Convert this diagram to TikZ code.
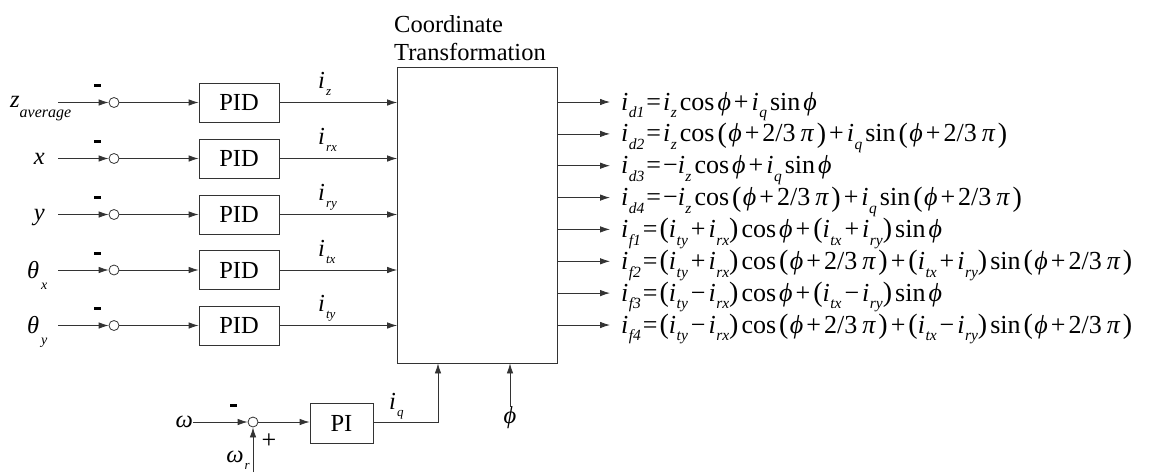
\documentclass[tikz,border=0pt]{standalone}
\usepackage{fontspec}
\setmainfont{Liberation Serif}
\usetikzlibrary{arrows.meta,calc}
\newcommand\fsub[1]{\raisebox{-0.3em}{\fontsize{15.5}{15.5}\selectfont\textit{#1}}}
\newcommand\iv[1]{\textit{i}\kern0.5pt\fsub{#1}}
\newcommand\fphi{\textit{ϕ}}
\newcommand\fpi{\textit{π}}
\newcommand\flp{\raisebox{-0.5pt}{\fontsize{28}{28}\selectfont(}}
\newcommand\frp{\raisebox{-0.5pt}{\fontsize{28}{28}\selectfont)}}
\newcommand\feq{\kern2pt=\kern2pt}
\newcommand\fpl{\kern3pt+\kern3pt}
\newcommand\fmn{\kern3pt−\kern3pt}
\newcommand\fcos{\kern3pt cos\kern3pt}
\newcommand\fsin{\kern3pt sin\kern3pt}
\newcommand\fang{\flp\kern1.5pt\fphi\fpl 2/3\kern5pt\fpi\kern2.5pt\frp}
\begin{document}
\begin{tikzpicture}[x=1pt,y=-1pt,
  every node/.style={inner sep=0pt, font=\fontsize{24.5}{28}\selectfont},
  blk/.style={draw=black!80, line width=0.8pt, minimum width=80pt, minimum height=39pt},
  sumc/.style={draw=black!80, line width=0.8pt, circle, minimum size=10pt},
  wire/.style={line width=0.8pt, draw=black!80},
  arr/.style={wire, -{Latex[length=10pt,width=6.5pt]}},
  frm/.style={anchor=base west, font=\fontsize{26}{28}\selectfont},
  sgn/.style={fill=black, minimum width=7pt, minimum height=3pt},
  ilab/.style={anchor=base west}
]
\useasboundingbox (0,0) rectangle (1153,472);

% Coordinate transformation block
\node[draw=black!80, line width=0.8pt, minimum width=160pt, minimum height=296pt] (ct) at (477.5,215) {};
\node[anchor=base west] (ctl1) at (394,32) {Coordinate};
\node[anchor=base west] (ctl2) at (394,60) {Transformation};

% ---- row 1
\node[anchor=base west] (l1) at (10,107) {\textit{z}\raisebox{-0.42em}{\fontsize{16}{16}\selectfont\textit{average}}};
\coordinate (s1) at (58,102.5);
\node[sumc] (c1) at (114,102.5) {};
\node[sgn] (m1) at (97.5,85.5) {};
\node[blk] (p1) at (239,102.5) {PID};
\draw[arr] (s1) -- (c1);
\draw[arr] (c1) -- (p1);
\draw[arr] (p1) -- (p1 -| ct.west);
\node[ilab] (o1) at (318,88) {\textit{i}\kern1pt\raisebox{-0.3em}{\fontsize{13}{13}\selectfont\textit{z}}};

% ---- row 2
\node[anchor=base east] (l2) at (45,164) {\textit{x}};
\coordinate (s2) at (58,158.5);
\node[sumc] (c2) at (114,158.5) {};
\node[sgn] (m2) at (97.5,141.5) {};
\node[blk] (p2) at (239,158.5) {PID};
\draw[arr] (s2) -- (c2);
\draw[arr] (c2) -- (p2);
\draw[arr] (p2) -- (p2 -| ct.west);
\node[ilab] (o2) at (318,144) {\textit{i}\kern1pt\raisebox{-0.3em}{\fontsize{13}{13}\selectfont\textit{rx}}};

% ---- row 3
\node[anchor=base east] (l3) at (45,220) {\textit{y}};
\coordinate (s3) at (58,214.5);
\node[sumc] (c3) at (114,214.5) {};
\node[sgn] (m3) at (97.5,197.5) {};
\node[blk] (p3) at (239,214.5) {PID};
\draw[arr] (s3) -- (c3);
\draw[arr] (c3) -- (p3);
\draw[arr] (p3) -- (p3 -| ct.west);
\node[ilab] (o3) at (318,200) {\textit{i}\kern1pt\raisebox{-0.3em}{\fontsize{13}{13}\selectfont\textit{ry}}};

% ---- row 4
\node[anchor=base west] (l4) at (27,278) {\textit{θ}\kern2pt\raisebox{-0.45em}{\fontsize{14}{14}\selectfont\textit{x}}};
\coordinate (s4) at (58,270);
\node[sumc] (c4) at (114,270) {};
\node[sgn] (m4) at (97.5,253) {};
\node[blk] (p4) at (239,270) {PID};
\draw[arr] (s4) -- (c4);
\draw[arr] (c4) -- (p4);
\draw[arr] (p4) -- (p4 -| ct.west);
\node[ilab] (o4) at (318,256) {\textit{i}\kern1pt\raisebox{-0.3em}{\fontsize{13}{13}\selectfont\textit{tx}}};

% ---- row 5
\node[anchor=base west] (l5) at (27,333) {\textit{θ}\kern2pt\raisebox{-0.45em}{\fontsize{14}{14}\selectfont\textit{y}}};
\coordinate (s5) at (58,325.5);
\node[sumc] (c5) at (114,325.5) {};
\node[sgn] (m5) at (97.5,308.5) {};
\node[blk] (p5) at (239,325.5) {PID};
\draw[arr] (s5) -- (c5);
\draw[arr] (c5) -- (p5);
\draw[arr] (p5) -- (p5 -| ct.west);
\node[ilab] (o5) at (318,311) {\textit{i}\kern1pt\raisebox{-0.3em}{\fontsize{13}{13}\selectfont\textit{ty}}};

% ---- speed loop
\node[anchor=east] (w) at (193,422) {\textit{ω}};
\node[sumc] (c6) at (253,422) {};
\node[sgn] (m6) at (233,405.5) {};
\node[font=\fontsize{26}{26}\selectfont] (pl) at (269,441) {+};
\node[anchor=base east] (wr) at (250,462) {\textit{ω}\kern1pt\raisebox{-0.3em}{\fontsize{13}{13}\selectfont\textit{r}}};
\coordinate (wrs) at (253,472);
\node[blk, minimum width=63pt, minimum height=40pt] (pi) at (341.5,423) {PI};
\draw[arr] (w) -- (c6);
\draw[arr] (wrs) -- (c6);
\draw[arr] (c6) -- (c6 -| pi.west);
\coordinate (qk) at (438,422);
\draw[arr] (pi.east |- qk) -- (qk) -- (qk |- ct.south);
\node[ilab] (iq) at (389,409) {\textit{i}\kern1pt\raisebox{-0.3em}{\fontsize{13}{13}\selectfont\textit{q}}};
\node (ph) at (510,418) {\textit{ϕ}};
\draw[arr] (ph.north) -- (ph.north |- ct.south);

% ---- outputs
\foreach \k/\yy in {1/102, 2/133.9, 3/165.7, 4/197.6, 5/229.4, 6/261.3, 7/293.1, 8/325}{
  \coordinate (t\k) at (610,\yy);
  \draw[arr] (ct.east |- t\k) -- (t\k);
}
\node[frm] (f1) at (621,110) {\iv{d1}\feq\iv{z}\fcos\fphi\fpl\iv{q}\fsin\fphi};
\node[frm] (f2) at (621,141.9) {\iv{d2}\feq\iv{z}\fcos\fang\fpl\iv{q}\fsin\fang};
\node[frm] (f3) at (621,173.7) {\iv{d3}\feq−\iv{z}\fcos\fphi\fpl\iv{q}\fsin\fphi};
\node[frm] (f4) at (621,205.6) {\iv{d4}\feq−\iv{z}\fcos\fang\fpl\iv{q}\fsin\fang};
\node[frm] (f5) at (621,237.4) {\iv{f1}\feq\flp\iv{ty}\fpl\iv{rx}\frp\fcos\fphi\fpl\flp\iv{tx}\fpl\iv{ry}\frp\fsin\fphi};
\node[frm] (f6) at (621,269.3) {\iv{f2}\feq\flp\iv{ty}\fpl\iv{rx}\frp\fcos\fang\fpl\flp\iv{tx}\fpl\iv{ry}\frp\fsin\fang};
\node[frm] (f7) at (621,301.1) {\iv{f3}\feq\flp\iv{ty}\fmn\iv{rx}\frp\fcos\fphi\fpl\flp\iv{tx}\fmn\iv{ry}\frp\fsin\fphi};
\node[frm] (f8) at (621,333) {\iv{f4}\feq\flp\iv{ty}\fmn\iv{rx}\frp\fcos\fang\fpl\flp\iv{tx}\fmn\iv{ry}\frp\fsin\fang};
\end{tikzpicture}
\end{document}
